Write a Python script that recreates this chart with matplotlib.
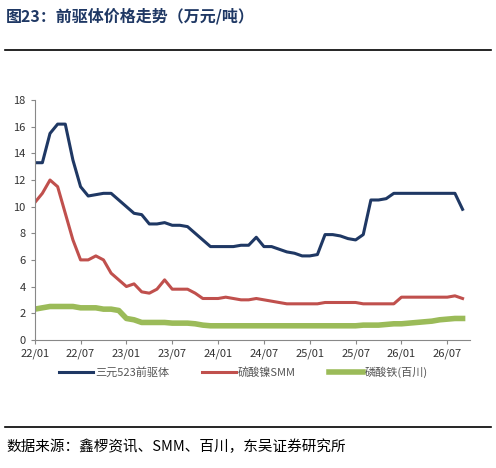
import numpy as np
import matplotlib.pyplot as plt
from matplotlib.lines import Line2D

plt.rcParams['font.family'] = ['Noto Sans CJK SC', 'DejaVu Sans']

# monthly values, 22/01 .. 26/09
ncm = [13.3, 13.3, 15.5, 16.2, 16.2, 13.5, 11.5, 10.8, 10.9, 11.0, 11.0, 10.5,
       10.0, 9.5, 9.4, 8.7, 8.7, 8.8, 8.6, 8.6, 8.5, 8.0, 7.5, 7.0,
       7.0, 7.0, 7.0, 7.1, 7.1, 7.7, 7.0, 7.0, 6.8, 6.6, 6.5, 6.3,
       6.3, 6.4, 7.9, 7.9, 7.8, 7.6, 7.5, 7.9, 10.5, 10.5, 10.6, 11.0,
       11.0, 11.0, 11.0, 11.0, 11.0, 11.0, 11.0, 11.0, 9.8]
niso4 = [10.3, 11.0, 12.0, 11.5, 9.5, 7.5, 6.0, 6.0, 6.3, 6.0, 5.0, 4.5,
         4.0, 4.2, 3.6, 3.5, 3.8, 4.5, 3.8, 3.8, 3.8, 3.5, 3.1, 3.1,
         3.1, 3.2, 3.1, 3.0, 3.0, 3.1, 3.0, 2.9, 2.8, 2.7, 2.7, 2.7,
         2.7, 2.7, 2.8, 2.8, 2.8, 2.8, 2.8, 2.7, 2.7, 2.7, 2.7, 2.7,
         3.2, 3.2, 3.2, 3.2, 3.2, 3.2, 3.2, 3.3, 3.1]
fepo4 = [2.3, 2.4, 2.5, 2.5, 2.5, 2.5, 2.4, 2.4, 2.4, 2.3, 2.3, 2.2,
         1.6, 1.5, 1.3, 1.3, 1.3, 1.3, 1.25, 1.25, 1.25, 1.2, 1.1, 1.05,
         1.05, 1.05, 1.05, 1.05, 1.05, 1.05, 1.05, 1.05, 1.05, 1.05, 1.05, 1.05,
         1.05, 1.05, 1.05, 1.05, 1.05, 1.05, 1.05, 1.1, 1.1, 1.1, 1.15, 1.2,
         1.2, 1.25, 1.3, 1.35, 1.4, 1.5, 1.55, 1.6, 1.6]
tick_labels = ['22/01', '22/07', '23/01', '23/07', '24/01', '24/07',
               '25/01', '25/07', '26/01', '26/07']

x = np.arange(len(ncm))

fig = plt.figure(figsize=(4.96, 4.68), dpi=100)
ax = fig.add_axes([0.07, 0.274, 0.878, 0.512])
ax.plot(x, ncm, color='#1F3864', lw=2.2, label='三元523前驱体')
ax.plot(x, niso4, color='#C0504D', lw=2.2, label='硫酸镍SMM')
ax.plot(x, fepo4, color='#9BBB59', lw=4, label='磷酸铁(百川)')

ax.set_xlim(0, 57)
ax.set_ylim(0, 18)
ax.set_yticks(range(0, 19, 2))
ax.set_xticks(range(0, 55, 6))
ax.set_xticklabels(tick_labels)
ax.tick_params(labelsize=8, length=3, color='#888888', labelcolor='#333333')
for s in ['top', 'right']:
    ax.spines[s].set_visible(False)
for s in ['left', 'bottom']:
    ax.spines[s].set_color('#888888')

leg = ax.legend(loc='upper center', bbox_to_anchor=(0.48, -0.07), ncol=3,
                frameon=False, fontsize=8, handlelength=3, columnspacing=3,
                handletextpad=0.2)
for t in leg.get_texts():
    t.set_color('#555555')

fig.text(0.012, 0.965, '图23：前驱体价格走势（万元/吨）', color='#1F3864',
         fontsize=11.5, fontweight='bold', va='center')
fig.add_artist(Line2D([0.01, 0.99], [0.893, 0.893], color='black', lw=1.2))
fig.add_artist(Line2D([0.01, 0.99], [0.088, 0.088], color='black', lw=1.2))
fig.text(0.012, 0.045, '数据来源：鑫椤资讯、SMM、百川，东吴证券研究所',
         fontsize=10.5, va='center')

fig.savefig('out.png', dpi=100)
